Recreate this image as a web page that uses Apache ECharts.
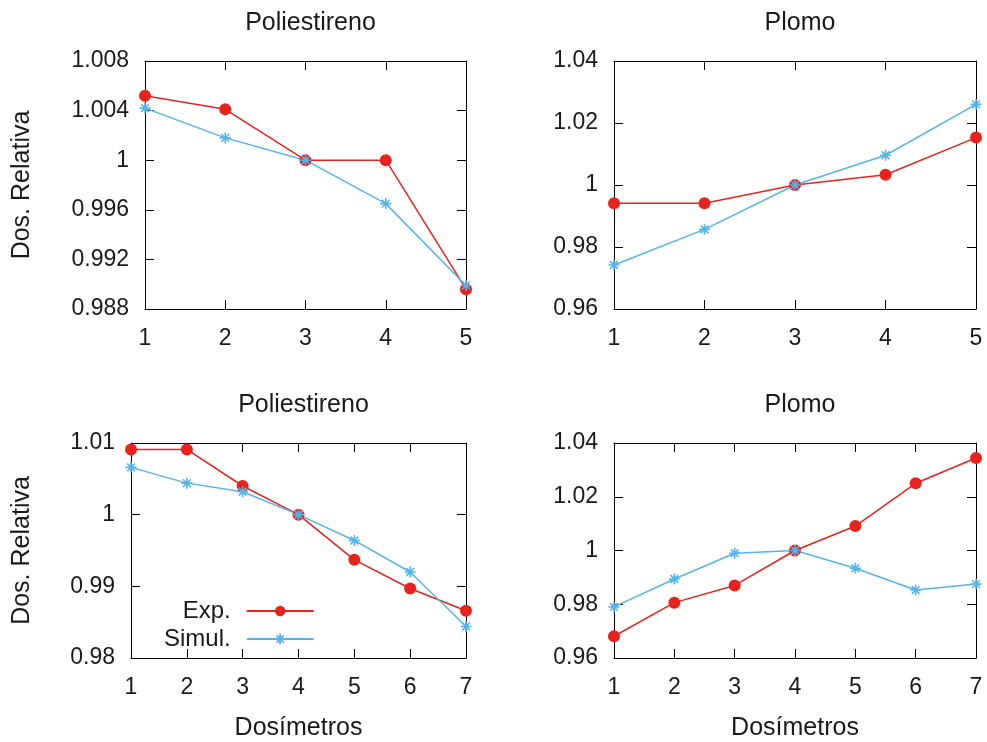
<!DOCTYPE html>
<html>
<head>
<meta charset="utf-8">
<script src="https://cdn.jsdelivr.net/npm/echarts@6/dist/echarts.min.js"></script>
<style>
  html, body { margin: 0; padding: 0; background: #fff; }
  #chart { width: 987px; height: 742px; }
</style>
</head>
<body>
<div id="chart"></div>
<script>
// Relative dose per dosimeter: experimental vs. simulated
const dosimeters5 = ['1', '2', '3', '4', '5'];
const dosimeters7 = ['1', '2', '3', '4', '5', '6', '7'];

const poliA_exp   = [1.0052, 1.0041, 1.0000, 1.0000, 0.9896];
const poliA_simul = [1.0042, 1.0018, 1.0000, 0.9965, 0.9899];
const plomoA_exp   = [0.9941, 0.9941, 1.0000, 1.0033, 1.0153];
const plomoA_simul = [0.9742, 0.9857, 1.0000, 1.0096, 1.0260];

const poliB_exp   = [1.0091, 1.0091, 1.0040, 1.0000, 0.9937, 0.9897, 0.9866];
const poliB_simul = [1.0066, 1.0044, 1.0032, 1.0000, 0.9964, 0.9920, 0.9844];
const plomoB_exp   = [0.9681, 0.9806, 0.9870, 1.0000, 1.0091, 1.0250, 1.0344];
const plomoB_simul = [0.9790, 0.9894, 0.9990, 1.0000, 0.9934, 0.9853, 0.9875];

const titles = ['Poliestireno', 'Plomo', 'Poliestireno', 'Plomo'];
const yRanges = [
  { min: 0.988, max: 1.008, interval: 0.004 },
  { min: 0.96, max: 1.04, interval: 0.02 },
  { min: 0.98, max: 1.01, interval: 0.01 },
  { min: 0.96, max: 1.04, interval: 0.02 }
];

const RED = '#e8231d';
const BLUE = '#56b4e9';
const TEXT = '#1a1a1a';
const FONT = 'Liberation Sans, Arial, sans-serif';
const STAR = 'path://M0,5L10,5M5,0L5,10M1.5,1.5L8.5,8.5M1.5,8.5L8.5,1.5';

const grids = [
  { left: 145, top: 61, width: 321, height: 248 },
  { left: 614, top: 61, width: 362, height: 248 },
  { left: 131, top: 443, width: 335, height: 216 },
  { left: 614, top: 443, width: 362, height: 216 }
];
const cats = [dosimeters5, dosimeters5, dosimeters7, dosimeters7];
const expData = [poliA_exp, plomoA_exp, poliB_exp, plomoB_exp];
const simData = [poliA_simul, plomoA_simul, poliB_simul, plomoB_simul];

const fmt = v => String(+v.toFixed(3));

const xAxis = [], yAxis = [], series = [], title = [];
grids.forEach((g, i) => {
  const common = {
    gridIndex: i,
    axisLine: { show: true, lineStyle: { color: '#000', width: 1 } },
    axisTick: { show: true, inside: true, length: 9, lineStyle: { color: '#000', width: 1 } },
    splitLine: { show: false }
  };
  // bottom x axis with labels
  xAxis.push(Object.assign({}, common, {
    type: 'category', data: cats[i], boundaryGap: false, position: 'bottom',
    axisTick: Object.assign({}, common.axisTick, { alignWithLabel: true }),
    axisLabel: { color: TEXT, fontSize: 23, fontFamily: FONT, margin: 18 },
    name: i >= 2 ? 'Dosímetros' : '',
    nameLocation: 'middle', nameGap: 58,
    nameTextStyle: { color: TEXT, fontSize: 25, fontFamily: FONT }
  }));
  // mirrored top x axis (ticks only)
  xAxis.push(Object.assign({}, common, {
    type: 'category', data: cats[i], boundaryGap: false, position: 'top',
    axisLabel: { show: false }
  }));
  const r = yRanges[i];
  yAxis.push(Object.assign({}, common, {
    type: 'value', position: 'left', min: r.min, max: r.max, interval: r.interval,
    axisLabel: { color: TEXT, fontSize: 23, fontFamily: FONT, margin: 16, formatter: fmt },
    name: (i % 2 === 0) ? 'Dos. Relativa' : '',
    nameLocation: 'middle', nameGap: i === 0 ? 110 : 96,
    nameTextStyle: { color: TEXT, fontSize: 25, fontFamily: FONT }
  }));
  // mirrored right y axis (ticks only)
  yAxis.push(Object.assign({}, common, {
    type: 'value', position: 'right', min: r.min, max: r.max, interval: r.interval,
    axisLabel: { show: false }
  }));
  title.push({
    text: titles[i],
    left: g.left + g.width / 2, top: g.top - 55, textAlign: 'center',
    textStyle: { color: TEXT, fontSize: 25, fontWeight: 'normal', fontFamily: FONT }
  });
  series.push({
    name: 'Exp.', type: 'line', xAxisIndex: 2 * i, yAxisIndex: 2 * i,
    data: expData[i], symbol: 'circle', symbolSize: 12, clip: false,
    lineStyle: { color: RED, width: 1.5 }, itemStyle: { color: RED },
    emphasis: { disabled: true }
  });
  series.push({
    name: 'Simul.', type: 'line', xAxisIndex: 2 * i, yAxisIndex: 2 * i,
    data: simData[i], symbol: STAR, symbolSize: 11, clip: false,
    lineStyle: { color: BLUE, width: 1.5 },
    itemStyle: { color: BLUE, borderColor: BLUE, borderWidth: 1.6 },
    emphasis: { disabled: true }
  });
});

const chart = echarts.init(document.getElementById('chart'), null, { renderer: 'canvas' });
chart.setOption({
  animation: false,
  backgroundColor: '#fff',
  title: title,
  grid: grids.map(g => Object.assign({ containLabel: false }, g)),
  xAxis: xAxis,
  yAxis: yAxis,
  legend: {
    data: ['Exp.', 'Simul.'],
    orient: 'vertical', align: 'right',
    left: 159, top: 594,
    itemWidth: 67, itemHeight: 13, itemGap: 4,
    textStyle: { color: TEXT, fontSize: 24, fontFamily: FONT, width: 70, align: 'right', padding: [0, 11, 0, 0] }
  },
  series: series
});
</script>
</body>
</html>
